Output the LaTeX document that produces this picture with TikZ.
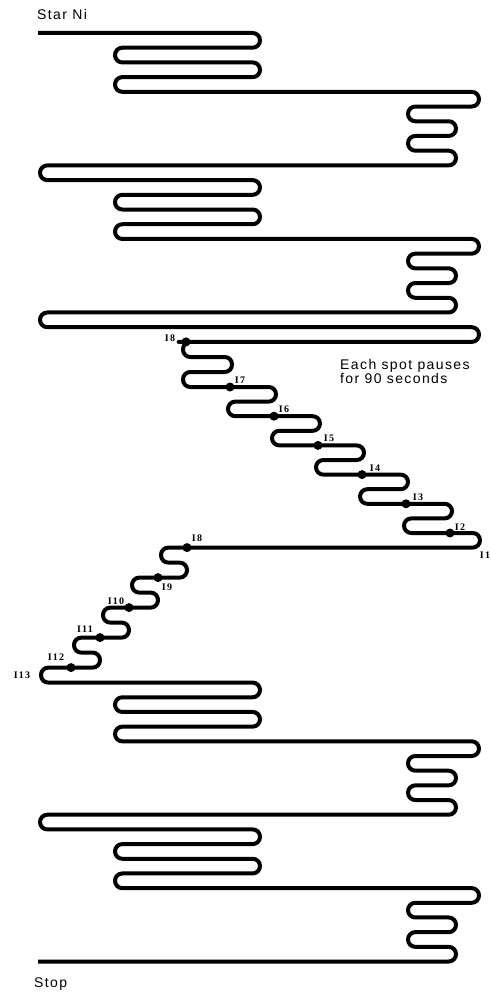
\documentclass[tikz,border=0pt]{standalone}
\usepackage{fontspec}
\newfontfamily\sansf[LetterSpace=10]{Liberation Sans}
\newfontfamily\labf[LetterSpace=12]{Liberation Serif}
\begin{document}
\begin{tikzpicture}[x=1pt,y=-1pt,
  track/.style={line width=4pt, rounded corners=7.3pt, line join=round},
  spot/.style={circle, fill=black, inner sep=0pt, minimum size=9pt},
  lab/.style={font=\labf\bfseries\fontsize{10}{10}\selectfont, inner sep=0pt},
  txt/.style={font=\sansf\fontsize{14}{14}\selectfont, inner sep=0pt}]
\useasboundingbox (0,0) rectangle (490,995);
% spot positions
\coordinate (p8) at (186,341.91);
\coordinate (p7) at (230,387);
\coordinate (p6) at (274,416.2);
\coordinate (p5) at (318,445.4);
\coordinate (p4) at (362,474.6);
\coordinate (p3) at (406,503.8);
\coordinate (p2) at (450,533);
\coordinate (p1) at (480,547.6);
\coordinate (q8) at (187,547.6);
\coordinate (q9) at (158,577.6);
\coordinate (q10) at (129,607.6);
\coordinate (q11) at (100,637.6);
\coordinate (q12) at (71,667.6);
\coordinate (q13) at (41,682.6);
\coordinate (start) at (38,33);
\coordinate (stop) at (38,961.52);
% the track
\draw[track] (start) -- (260,33) -- (260,47.71) -- (115,47.71) -- (115,62.42) -- (260,62.42)
 -- (260,77.13) -- (115,77.13) -- (115,91.84) -- (479,91.84) -- (479,106.55) -- (408,106.55)
 -- (408,121.26) -- (456,121.26) -- (456,135.97) -- (408,135.97) -- (408,150.68) -- (456,150.68)
 -- (456,165.39) -- (40,165.39) -- (40,180.10) -- (260,180.10) -- (260,194.81) -- (115,194.81)
 -- (115,209.52) -- (260,209.52) -- (260,224.23) -- (115,224.23) -- (115,238.94) -- (479,238.94)
 -- (479,253.65) -- (408,253.65) -- (408,268.36) -- (456,268.36) -- (456,283.07) -- (408,283.07)
 -- (408,297.78) -- (456,297.78) -- (456,312.49) -- (40,312.49) -- (40,327.20) -- (479,327.20)
 -- (479,341.91) -- (p8) -- (183,341.91) -- (183,357) -- (232,357) -- (232,372) -- (183,372)
 -- (183,387) -- (p7) -- (276,387) -- (276,401.6) -- (228,401.6) -- (228,416.2) -- (p6)
 -- (320,416.2) -- (320,430.8) -- (272,430.8) -- (272,445.4) -- (p5)
 -- (364,445.4) -- (364,460) -- (316,460) -- (316,474.6) -- (p4)
 -- (408,474.6) -- (408,489.2) -- (360,489.2) -- (360,503.8) -- (p3)
 -- (452,503.8) -- (452,518.4) -- (404,518.4) -- (404,533) -- (p2)
 -- (480,533) -- (p1) -- (q8)
 -- (161,547.6) -- (161,562.6) -- (187,562.6) -- (187,577.6) -- (q9)
 -- (132,577.6) -- (132,592.6) -- (158,592.6) -- (158,607.6) -- (q10)
 -- (103,607.6) -- (103,622.6) -- (129,622.6) -- (129,637.6) -- (q11)
 -- (74,637.6) -- (74,652.6) -- (100,652.6) -- (100,667.6) -- (q12)
 -- (41,667.6) -- (q13) -- (260,682.6) -- (260,697.28) -- (115,697.28)
 -- (115,711.96) -- (260,711.96) -- (260,726.64) -- (115,726.64) -- (115,741.32) -- (479,741.32)
 -- (479,756) -- (408,756) -- (408,770.68) -- (456,770.68) -- (456,785.36) -- (408,785.36)
 -- (408,800.04) -- (456,800.04) -- (456,814.72) -- (40,814.72) -- (40,829.4) -- (260,829.4)
 -- (260,844.08) -- (115,844.08) -- (115,858.76) -- (260,858.76) -- (260,873.44) -- (115,873.44)
 -- (115,888.12) -- (479,888.12) -- (479,902.8) -- (408,902.8) -- (408,917.48) -- (456,917.48)
 -- (456,932.16) -- (408,932.16) -- (408,946.84) -- (456,946.84) -- (456,961.52) -- (stop);
% spots
\foreach \p in {p8,p7,p6,p5,p4,p3,p2,q8,q9,q10,q11,q12}
  \node[spot] (d\p) at (\p) {};
% spot labels
\node[lab] (l8) at (170,338) {I8};
\node[lab] (l7) at (240,380) {I7};
\node[lab] (l6) at (284,409) {I6};
\node[lab] (l5) at (329,438) {I5};
\node[lab] (l4) at (375,468) {I4};
\node[lab] (l3) at (418,497) {I3};
\node[lab] (l2) at (460,527) {I2};
\node[lab] (l1) at (485,555) {I1};
\node[lab] (m8) at (197,538) {I8};
\node[lab] (m9) at (167,587) {I9};
\node[lab] (m10) at (116,601) {I10};
\node[lab] (m11) at (85,629) {I11};
\node[lab] (m12) at (56,657) {I12};
\node[lab] (m13) at (22,675) {I13};
% texts
\node[txt, anchor=base west] (title) at (37,20) {Star Ni};
\node[txt, anchor=base west] (end) at (34,987) {Stop};
\node[txt, anchor=north west, align=left] (note) at (340,359) {Each spot pauses\\for 90 seconds};
\end{tikzpicture}
\end{document}
